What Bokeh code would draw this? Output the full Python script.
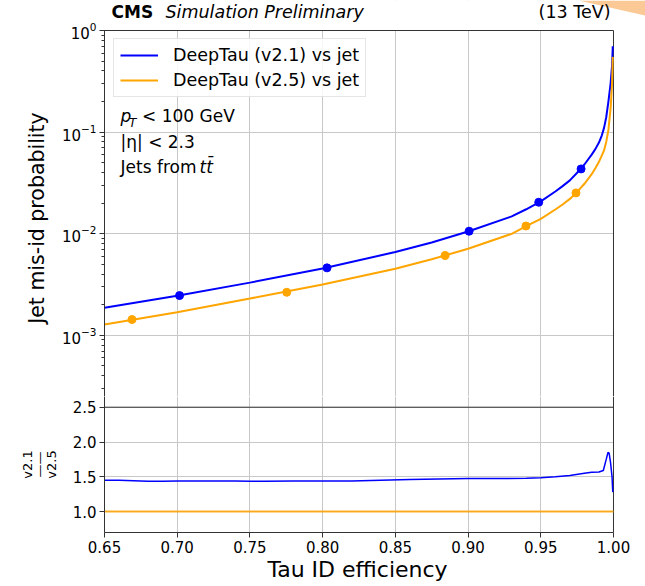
import math
from bokeh.plotting import figure
from bokeh.models import (Range1d, Label, Legend, LegendItem,
                          FixedTicker, NumeralTickFormatter, BoxAnnotation, PolyAnnotation)
from bokeh.layouts import column
from bokeh.embed import file_html
from bokeh.resources import INLINE

FONT = "DejaVu Sans"

# ---------------- data ----------------
eff = [0.65, 0.70, 0.75, 0.80, 0.85, 0.875, 0.90, 0.93, 0.94, 0.95, 0.96, 0.965, 0.97,
       0.975, 0.98, 0.985, 0.9875, 0.99, 0.992, 0.9935, 0.995, 0.9965, 0.998, 0.999, 0.9995]
misid_v21 = [1.87e-3, 2.45e-3, 3.3e-3, 4.55e-3, 6.6e-3, 8.2e-3, 1.05e-2, 1.48e-2, 1.74e-2,
             2.08e-2, 2.6e-2, 2.94e-2, 3.35e-2, 3.98e-2, 4.8e-2, 6.0e-2, 6.8e-2, 7.9e-2,
             9.3e-2, 0.11, 0.14, 0.2, 0.3, 0.45, 0.7]
misid_v25 = [1.28e-3, 1.69e-3, 2.3e-3, 3.16e-3, 4.52e-3, 5.6e-3, 7.1e-3, 9.97e-3, 1.19e-2,
             1.4e-2, 1.73e-2, 1.94e-2, 2.2e-2, 2.58e-2, 3.1e-2, 3.85e-2, 4.4e-2, 5.1e-2,
             5.9e-2, 6.6e-2, 8.0e-2, 0.105, 0.17, 0.3, 0.55]

wp_eff_v21 = [0.7016, 0.8030, 0.9007, 0.9486, 0.9777]
wp_misid_v21 = [2.46e-3, 4.61e-3, 1.058e-2, 2.04e-2, 4.34e-2]
wp_eff_v25 = [0.6689, 0.7753, 0.8842, 0.9398, 0.9742]
wp_misid_v25 = [1.43e-3, 2.65e-3, 6.11e-3, 1.19e-2, 2.52e-2]

ratio_eff = [0.65, 0.66, 0.67, 0.68, 0.69, 0.70, 0.72, 0.74, 0.75, 0.76, 0.78, 0.80,
             0.82, 0.84, 0.86, 0.88, 0.90, 0.92, 0.94, 0.95, 0.96, 0.97, 0.98, 0.985,
             0.99, 0.993, 0.995, 0.9962, 0.997, 0.998, 0.999, 0.9995]
ratio_v21_v25 = [1.45, 1.45, 1.445, 1.435, 1.435, 1.44, 1.44, 1.44, 1.435, 1.435, 1.44, 1.44,
                 1.44, 1.45, 1.46, 1.47, 1.475, 1.475, 1.48, 1.485, 1.50, 1.52, 1.55, 1.565,
                 1.57, 1.59, 1.75, 1.85, 1.84, 1.70, 1.50, 1.28]
ref_eff = [0.65, 1.0]
ref_ratio = [1.0, 1.0]

x_ticks = [0.65, 0.70, 0.75, 0.80, 0.85, 0.90, 0.95, 1.00]
ratio_ticks = [1.0, 1.5, 2.0, 2.5]

BLUE = "#0000ff"
ORANGE = "#ffa500"
GRID = "#c8c8c8"
SPINE = "#333333"

# Both panels: frame covers canvas x 104..645; the axes box ends at x = 613 (eff = 1.0).
X_MIN, X_MAX = 0.65, 1.0
X_EDGE = X_MAX + 32 * 0.05 / 72.7
# top panel: frame y 0..396, axes box y 30..396 (10^0 at 30 px, one decade = 101.6 px)
Y_LOW = 10 ** (-366 / 101.6)
Y_TOP = 1.0
Y_HEAD = 10 ** (30 / 101.6)
# ratio panel: frame y 396..532, 2.5 at 406.7 px
R_LOW, R_TOP, R_EDGE = 0.7, 2.5, 2.654

NBSP = "\u00a0"


def white_box(fig, **kw):
    fig.add_layout(BoxAnnotation(fill_color="white", fill_alpha=1.0, line_alpha=0,
                                 level="underlay", **kw))


# ---------------- top panel ----------------
top = figure(width=645, height=396, x_range=Range1d(X_MIN, X_EDGE),
             y_range=Range1d(Y_LOW, Y_HEAD), y_axis_type="log", x_axis_location=None,
             min_border_left=104, min_border_right=0, min_border_top=0, min_border_bottom=0,
             output_backend="svg", toolbar_location=None)
top.outline_line_color = None
top.background_fill_color = "white"
top.border_fill_color = "white"

ya = top.yaxis[0]
ya.bounds = (Y_LOW, Y_TOP)
ya.axis_label = "Jet mis-id probability" + NBSP * 6
ya.axis_label_text_font = FONT
ya.axis_label_text_font_size = "20.5px"
ya.axis_label_text_font_style = "normal"
ya.axis_label_text_color = "black"
ya.axis_label_standoff = 10
ya.major_label_text_font = FONT
ya.major_label_text_font_size = "15px"
ya.major_label_text_color = "black"
ya.major_label_standoff = 3
ya.major_tick_in = 0
ya.major_tick_out = 5
ya.minor_tick_in = 0
ya.minor_tick_out = 3
ya.axis_line_color = SPINE
ya.major_tick_line_color = SPINE
ya.minor_tick_line_color = SPINE

top.xgrid.ticker = FixedTicker(ticks=x_ticks)
top.xgrid.grid_line_color = GRID
top.ygrid.grid_line_color = GRID

white_box(top, bottom=Y_TOP)
white_box(top, left=X_MAX)
top.line([X_MIN, X_MAX, X_MAX], [Y_TOP, Y_TOP, Y_LOW], line_color=SPINE, line_width=1)

r21 = top.line(eff, misid_v21, line_color=BLUE, line_width=2)
r25 = top.line(eff, misid_v25, line_color=ORANGE, line_width=2)
top.scatter(wp_eff_v21, wp_misid_v21, size=8, color=BLUE)
top.scatter(wp_eff_v25, wp_misid_v25, size=8, color=ORANGE)

legend = Legend(items=[LegendItem(label="DeepTau (v2.1) vs jet", renderers=[r21]),
                       LegendItem(label="DeepTau (v2.5) vs jet", renderers=[r25])],
                location=(9, 299), margin=0, padding=6, spacing=5,
                glyph_width=38, glyph_height=20, label_height=20, label_standoff=15,
                label_text_font=FONT, label_text_font_size="17.5px", label_text_color="black",
                border_line_color="#cccccc", border_line_width=1,
                background_fill_color="white", background_fill_alpha=0.85)
top.add_layout(legend)

# light orange corner shape seen at the top right of the picture (frame-relative px)
top.add_layout(PolyAnnotation(xs=[474, 541, 541], ys=[396, 396, 381],
                              xs_units="screen", ys_units="screen",
                              fill_color="#fbc996", fill_alpha=1.0, line_alpha=0))


def lab(fig, x, y, text, size, style="normal", **kw):
    fig.add_layout(Label(x=x, y=y, x_units="screen", y_units="screen", text=text,
                         text_font=FONT, text_font_size=size, text_font_style=style,
                         text_color="black", **kw))


# positions relative to the top frame: left = 104 px, bottom = 396 px (canvas)
lab(top, 7, 396 - 21.7, "CMS", "17px", "bold")
lab(top, 61, 396 - 21.7, "Simulation Preliminary", "17.5px", "italic")
lab(top, 506, 396 - 21.7, "(13 TeV)", "17.5px", text_align="right")

lab(top, 16, 396 - 125, "p", "17px", "italic")
lab(top, 24.5, 396 - 129, "T", "12px", "italic")
lab(top, 37.5, 396 - 125, "< 100 GeV", "17px")
lab(top, 16, 396 - 151, "|η| < 2.3", "17px")
lab(top, 16, 396 - 176, "Jets from", "17px")
lab(top, 95, 396 - 176, "tt\u0304", "17px", "italic")

# ---------------- ratio panel ----------------
bot = figure(width=645, height=190, x_range=Range1d(X_MIN, X_EDGE),
             y_range=Range1d(R_LOW, R_EDGE),
             min_border_left=104, min_border_right=0, min_border_top=0, min_border_bottom=54,
             output_backend="svg", toolbar_location=None)
bot.outline_line_color = None
bot.background_fill_color = "white"
bot.border_fill_color = "white"

bx = bot.xaxis[0]
bx.bounds = (X_MIN, X_MAX)
bx.ticker = FixedTicker(ticks=x_ticks)
bx.formatter = NumeralTickFormatter(format="0.00")
bx.axis_label = "Tau ID efficiency" + NBSP * 5
bx.axis_label_text_font = FONT
bx.axis_label_text_font_size = "22px"
bx.axis_label_text_font_style = "normal"
bx.axis_label_text_color = "black"
bx.axis_label_standoff = 1
bx.major_label_text_font = FONT
bx.major_label_text_font_size = "15px"
bx.major_label_text_color = "black"
bx.major_label_standoff = 3
bx.major_tick_in = 0
bx.major_tick_out = 5
bx.minor_tick_line_color = None
bx.axis_line_color = SPINE
bx.major_tick_line_color = SPINE

by = bot.yaxis[0]
by.ticker = FixedTicker(ticks=ratio_ticks)
by.formatter = NumeralTickFormatter(format="0.0")
by.axis_label = "v2.1\n\u2014\u2014\nv2.5"
by.axis_label_text_font = FONT
by.axis_label_text_font_size = "13px"
by.axis_label_text_font_style = "normal"
by.axis_label_text_color = "black"
by.axis_label_text_line_height = 0.8
by.axis_label_standoff = 11
by.major_label_text_font = FONT
by.major_label_text_font_size = "15px"
by.major_label_text_color = "black"
by.major_label_standoff = 3
by.major_tick_in = 0
by.major_tick_out = 5
by.minor_tick_line_color = None
by.axis_line_color = SPINE
by.major_tick_line_color = SPINE

bot.xgrid.ticker = FixedTicker(ticks=x_ticks)
bot.xgrid.grid_line_color = GRID
bot.ygrid.grid_line_color = GRID

white_box(bot, left=X_MAX)
# panel separator at 2.5 and right edge of the axes box
bot.line([X_MIN, X_MAX], [R_TOP, R_TOP], line_color=SPINE, line_width=1)
bot.line([X_MAX, X_MAX], [R_EDGE, R_LOW], line_color=SPINE, line_width=1)

bot.line(ref_eff, ref_ratio, line_color=ORANGE, line_width=2, line_alpha=0.85)
bot.line(ratio_eff, ratio_v21_v25, line_color=BLUE, line_width=1.5)

p = column(top, bot, spacing=0)
open("out.html", "w").write(file_html(p, INLINE))
